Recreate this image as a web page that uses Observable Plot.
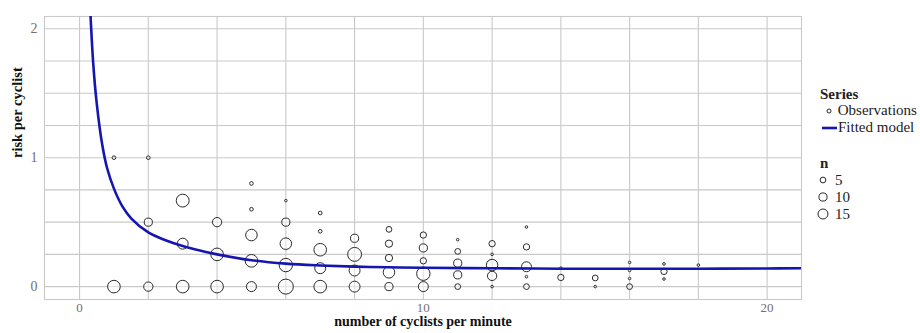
<!DOCTYPE html>
<html>
<head>
<meta charset="utf-8">
<script src="https://cdn.jsdelivr.net/npm/d3@7"></script>
<script src="https://cdn.jsdelivr.net/npm/@observablehq/plot@0.6"></script>
<style>
  html, body { margin: 0; padding: 0; background: #fff; }
  #wrap { position: relative; width: 920px; height: 333px; font-family: "Liberation Serif", "Times New Roman", Times, serif; }
  #wrap svg, #wrap svg text { font-family: "Liberation Serif", "Times New Roman", Times, serif !important; }
  #wrap svg g[aria-label$="tick label"] { fill: #707070; }
  .leg { position: absolute; font-family: "Liberation Serif", "Times New Roman", Times, serif; font-size: 15px; color: #222; white-space: nowrap; line-height: 1; }
  .leg b { font-weight: bold; }
</style>
</head>
<body>
<div id="wrap"></div>
<script>
// Observations: x = cyclists per minute, y = risk per cyclist, n = count
const obsX = [1,1, 2,2,2, 3,3,3, 4,4,4, 5,5,5,5,5, 6,6,6,6,6, 7,7,7,7,7, 8,8,8,8,
  9,9,9,9,9, 10,10,10,10,10, 11,11,11,11,11, 12,12,12,12,12, 13,13,13,13,13,
  14,14, 15,15, 16,16,16,16, 17,17,17, 18];
const obsY = [1,0, 1,0.5,0, 0.667,0.333,0, 0.5,0.25,0, 0.8,0.6,0.4,0.2,0, 0.667,0.5,0.333,0.167,0,
  0.571,0.429,0.286,0.143,0, 0.375,0.25,0.125,0,
  0.444,0.333,0.222,0.111,0, 0.4,0.3,0.2,0.1,0, 0.364,0.273,0.182,0.091,0,
  0.333,0.25,0.167,0.083,0, 0.462,0.308,0.154,0.077,0,
  0.143,0.071, 0.067,0, 0.1875,0.125,0.0625,0, 0.176,0.118,0.059, 0.167];
const obsN = [2,24, 2,10,13, 25,18,24, 13,24,24, 2,2,20,24,15, 1,10,20,27,34,
  2,2,24,18,24, 10,29,18,18,
  5,8,8,20,10, 6,10,6,27,15, 1,5,10,10,5,
  6,1,20,13,1, 1,6,15,1,5,
  1,6, 5,1, 1,1,1,5, 1,6,1, 1];

// Fitted model
const fitX = [0.31, 0.4, 0.5, 0.66, 0.8, 1.0, 1.25, 1.5, 2, 2.5, 3, 3.5, 4, 5, 6, 7, 8, 9, 10, 12, 14, 16, 18, 20, 21];
const fitY = [2.15, 1.72, 1.42, 1.1, 0.92, 0.76, 0.62, 0.53, 0.42, 0.36, 0.315, 0.28, 0.25, 0.205, 0.178, 0.164, 0.155, 0.15, 0.146, 0.142, 0.139, 0.138, 0.139, 0.141, 0.142];

// Axis ticks and grid positions
const xTicks = [0, 10, 20];
const yTicks = [0, 1, 2];
const xGrid = [0, 2, 4, 6, 8, 10, 12, 14, 16, 18, 20];
const yGrid = [0, 0.25, 0.5, 0.75, 1, 1.25, 1.5, 1.75, 2];
const sizeLegend = [5, 10, 15];

const obs = obsX.map((x, i) => ({x, y: obsY[i], n: obsN[i]}));
const fit = fitX.map((x, i) => ({x, y: fitY[i]}));

const gridColor = "#c9c9c9";
const blue = "#1515b0";
const serif = "'Liberation Serif', 'Times New Roman', Times, serif";

const chart = Plot.plot({
  width: 920,
  height: 333,
  marginLeft: 44,
  marginRight: 119,
  marginTop: 16,
  marginBottom: 34,
  style: {fontFamily: serif, fontSize: "14px", background: "white"},
  x: {domain: [-1.02, 21.0], label: null},
  y: {domain: [-0.1, 2.095], label: null},
  r: {type: "sqrt", domain: [0, 36], range: [0, 7.74]},
  marks: [
    Plot.ruleX(xGrid, {stroke: gridColor, strokeWidth: 1.1}),
    Plot.ruleY(yGrid, {stroke: gridColor, strokeWidth: 1.1}),
    Plot.frame({stroke: gridColor, strokeWidth: 1.1}),
    Plot.axisX({ticks: xTicks, tickFormat: d => String(d), tickSize: 0, tickPadding: 3, fontSize: 13}),
    Plot.axisY({ticks: yTicks, tickFormat: d => String(d), tickSize: 0, tickPadding: 7, fontSize: 14}),
    Plot.dot(obs, {x: "x", y: "y", r: "n", stroke: "#2a2a2a", fill: "white", fillOpacity: 0.45, strokeWidth: 1}),
    Plot.line(fit, {x: "x", y: "y", stroke: blue, strokeWidth: 2.6, curve: "catmull-rom", clip: true}),
    Plot.text(["number of cyclists per minute"], {frameAnchor: "bottom", dy: 26, fontWeight: "bold", fontSize: 14, fill: "#111"}),
    Plot.text(["risk per cyclist"], {frameAnchor: "left", dx: -27, rotate: -90, fontWeight: "bold", fontSize: 14.5, fill: "#111"})
  ]
});

const wrap = document.getElementById("wrap");
wrap.appendChild(chart);

// Legend
const rScale = chart.scale("r");
function addLeg(html, left, cy) {
  const d = document.createElement("div");
  d.className = "leg";
  d.innerHTML = html;
  d.style.left = left + "px";
  d.style.top = (cy - 8) + "px";
  wrap.appendChild(d);
  return d;
}
addLeg("<b>Series</b>", 820, 95);
addLeg(`<svg width="14" height="10" style="vertical-align:-1px"><circle cx="9" cy="5" r="2" fill="none" stroke="#2a2a2a" stroke-width="1"/></svg> Observations`, 820, 111);
addLeg(`<svg width="18" height="10" style="vertical-align:-1px"><line x1="2" x2="17" y1="5" y2="5" stroke="${blue}" stroke-width="2.6"/></svg>Fitted model`, 820, 128);
addLeg("<b>n</b>", 820, 164);
const rows = [181, 198, 215];
sizeLegend.forEach((n, i) => {
  const r = rScale.apply(n);
  addLeg(`<svg width="20" height="14" style="vertical-align:-2px"><circle cx="8" cy="7" r="${r}" fill="none" stroke="#2a2a2a" stroke-width="1"/></svg>${n}`, 815, rows[i]);
});
</script>
</body>
</html>
